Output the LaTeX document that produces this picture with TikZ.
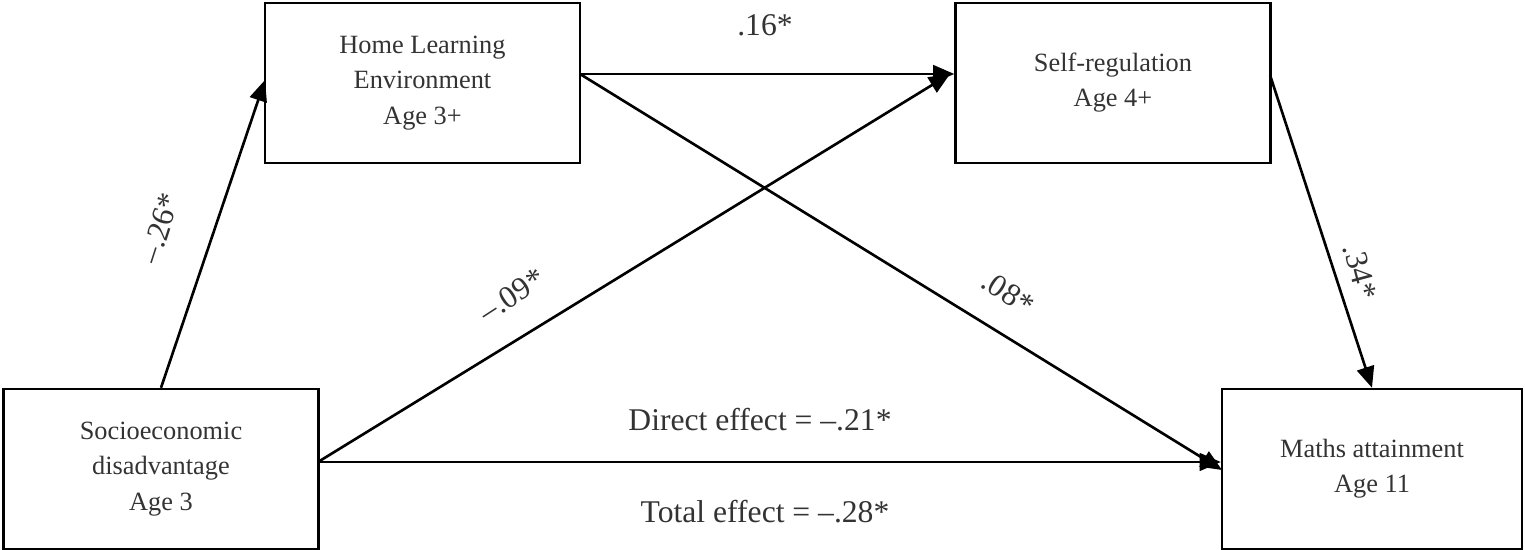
\documentclass[tikz,border=0pt]{standalone}
\usepackage{fontspec}
\setmainfont{Liberation Serif}
\usetikzlibrary{arrows.meta}
\begin{document}
\begin{tikzpicture}[x=0.02cm,y=-0.02cm,
    box/.style={draw, line width=1.4pt, minimum width=6.3cm, minimum height=3.2cm, align=center, font=\fontsize{15}{20}\selectfont, text=black!80},
    path/.style={-{Triangle[length=12pt,width=10pt]}, line width=1.5pt},
    coef/.style={font=\fontsize{18}{20}\selectfont, text=black!80}]
  \useasboundingbox (0,0) rectangle (1525,550);

  % Boxes
  \node[box] (hle) at (422.5,83) {Home Learning\\Environment\\Age 3+};
  \node[box] (self) at (1113,83) {Self-regulation\\Age 4+};
  \node[box] (ses) at (161,469) {Socioeconomic\\disadvantage\\Age 3};
  \node[box, minimum width=6cm] (maths) at (1372,469) {Maths attainment\\Age 11};

  % Connector ends
  \coordinate (sesout) at (318,462);
  \coordinate (hleout) at (580,74);

  % Paths
  \draw[path] (ses.north) -- (265,80);
  \draw[path] (hleout) -- (self.west |- hleout);
  \draw[path] (sesout) -- (950,74);
  \draw[path] (hleout) -- (1222,470);
  \draw[path] (1270,75) -- (maths.north);
  \draw[path] (sesout) -- (maths.west |- sesout);

  % Coefficients
  \node[coef] at (765,25) {.16*};
  \node[coef, rotate=72] at (160,228) {--.26*};
  \node[coef, rotate=33] at (512,295) {--.09*};
  \node[coef, rotate=-33] at (1008,293) {.08*};
  \node[coef, rotate=-75] at (1360,272) {.34*};
  \node[coef] at (760,420) {Direct effect = --.21*};
  \node[coef] at (765,512) {Total effect = --.28*};
\end{tikzpicture}
\end{document}
